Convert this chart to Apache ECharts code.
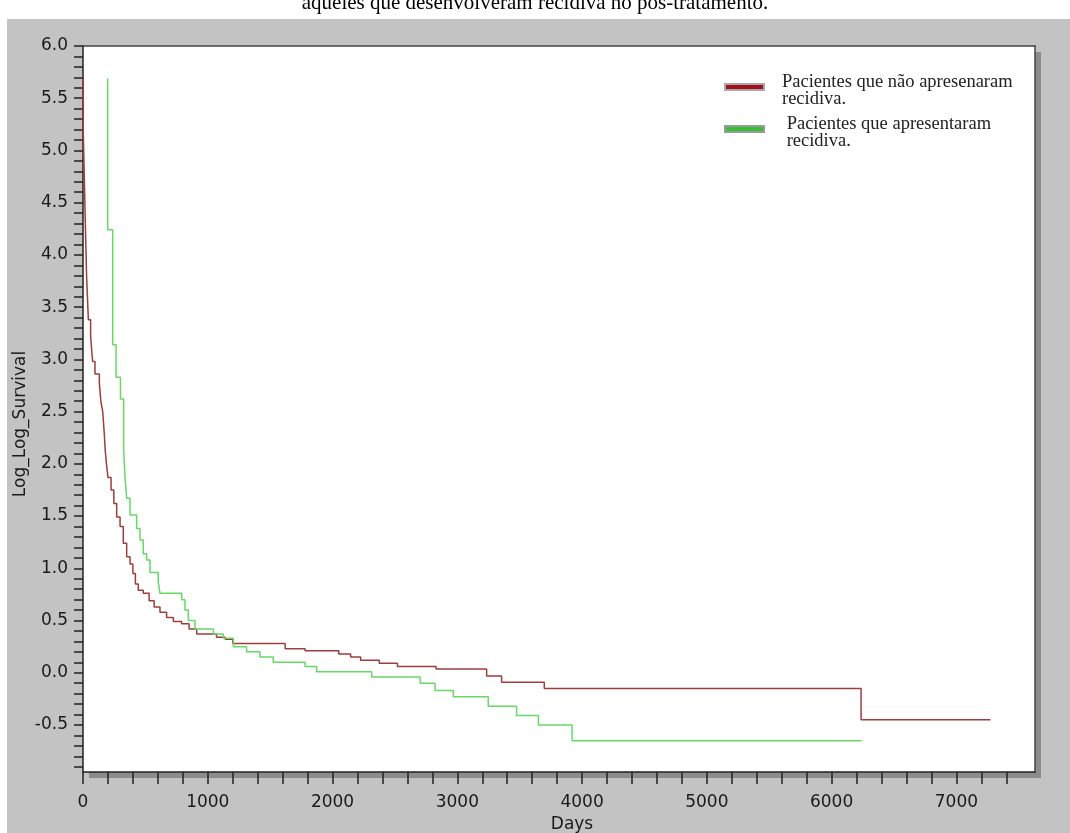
<!DOCTYPE html>
<html>
<head>
<meta charset="utf-8">
<script src="https://cdn.jsdelivr.net/npm/echarts@6/dist/echarts.min.js"></script>
<style>html,body{margin:0;padding:0;background:#fff}#c{width:1070px;height:833px}</style>
</head>
<body>
<div id="c"></div>
<script>
const captionText = 'aqueles que desenvolveram recidiva no pós-tratamento.';
const seriesNames = ['Pacientes que não apresenaram recidiva.', 'Pacientes que apresentaram recidiva.'];
const legendLines = [['Pacientes que não apresenaram', 'recidiva.'], [' Pacientes que apresentaram', ' recidiva.']];
const xAxisTitle = 'Days';
const yAxisTitle = 'Log_Log_Survival';
const xTickLabels = [0, 1000, 2000, 3000, 4000, 5000, 6000, 7000];
const yTickLabels = [-0.5, 0.0, 0.5, 1.0, 1.5, 2.0, 2.5, 3.0, 3.5, 4.0, 4.5, 5.0, 5.5, 6.0];

// Patients without recurrence: day at which each level begins, and the level
const redDays = [0, 2, 15, 29, 43, 61, 77, 96, 131, 144, 158, 170, 178, 188, 200, 225, 247, 270, 297, 323, 350, 377, 400, 420, 443, 483, 530, 570, 617, 670, 724, 790, 850, 911, 1070, 1140, 1200, 1620, 1780, 2050, 2145, 2225, 2375, 2520, 2830, 3235, 3355, 3697, 6236, 7273];
const redValues = [5.69, 5.19, 4.49, 3.79, 3.38, 3.22, 2.98, 2.86, 2.77, 2.59, 2.50, 2.30, 2.13, 2.00, 1.87, 1.75, 1.62, 1.49, 1.40, 1.24, 1.11, 1.04, 0.95, 0.85, 0.79, 0.76, 0.69, 0.63, 0.58, 0.53, 0.49, 0.47, 0.42, 0.37, 0.34, 0.32, 0.28, 0.23, 0.21, 0.18, 0.15, 0.12, 0.09, 0.06, 0.035, -0.03, -0.09, -0.15, -0.45, -0.45];

// Patients with recurrence
const greenDays = [198, 198, 238, 265, 300, 326, 337, 350, 377, 430, 457, 483, 510, 537, 603, 617, 791, 817, 844, 897, 1045, 1125, 1205, 1311, 1419, 1525, 1780, 1873, 2314, 2702, 2822, 2968, 3248, 3475, 3650, 3920, 6240];
const greenValues = [5.69, 4.24, 3.14, 2.83, 2.62, 2.13, 1.86, 1.67, 1.51, 1.38, 1.27, 1.14, 1.08, 0.96, 0.87, 0.76, 0.70, 0.60, 0.50, 0.42, 0.37, 0.33, 0.25, 0.20, 0.15, 0.10, 0.06, 0.01, -0.04, -0.10, -0.17, -0.23, -0.32, -0.41, -0.50, -0.65, -0.65];

const xMinorTicks = [];
for (let d = 0; d <= 7400; d += 200) xMinorTicks.push(d);
const yMinorTicks = [];
for (let i = -9; i <= 60; i++) yMinorTicks.push(i / 10);

const axisFont = 'DejaVu Sans';
const xMin = 0, xMax = 7630, yMin = -0.95, yMax = 6.0;
const chart = echarts.init(document.getElementById('c'));
const legendCommon = {
  orient: 'vertical', padding: 0, itemWidth: 39, itemHeight: 6, icon: 'rect',
  selectedMode: false,
  formatter: n => {
    const l = legendLines[seriesNames.indexOf(n)];
    return '{gap| }\n{t|' + l[0] + '}\n{t|' + l[1] + '}';
  },
  textStyle: {
    fontFamily: 'Liberation Serif', fontSize: 18.5, lineHeight: 17, color: '#222', padding: [0, 0, 0, 13],
    rich: {
      gap: { fontSize: 2, lineHeight: 8 },
      t: { fontFamily: 'Liberation Serif', fontSize: 18.5, lineHeight: 17, color: '#222' }
    }
  }
};
const frameAxis = {
  show: true, axisLine: { show: true, onZero: false, lineStyle: { color: '#444', width: 1.5 } },
  axisTick: { show: false }, axisLabel: { show: false }, splitLine: { show: false }
};
chart.setOption({
  animation: false,
  backgroundColor: '#c3c3c3',
  graphic: [
    { type: 'rect', shape: { x: 0, y: 0, width: 1070, height: 19 }, style: { fill: '#fff' }, silent: true },
    { type: 'rect', shape: { x: 0, y: 0, width: 7, height: 833 }, style: { fill: '#fff' }, silent: true }
  ],
  title: {
    text: captionText, left: 'center', top: -7, padding: 0,
    textStyle: { fontFamily: 'Liberation Serif', fontSize: 21, fontWeight: 'normal', color: '#000' }
  },
  legend: [
    Object.assign({}, legendCommon, {
      left: 724, top: 66,
      data: [{ name: seriesNames[0], itemStyle: { color: '#a3101c', borderColor: '#a8a8a8', borderWidth: 2 } }]
    }),
    Object.assign({}, legendCommon, {
      left: 724, top: 108,
      data: [{ name: seriesNames[1], itemStyle: { color: '#33c133', borderColor: '#9a9a9a', borderWidth: 2 } }]
    })
  ],
  grid: {
    left: 83, top: 46, right: 35, bottom: 61, show: true, containLabel: false, outerBoundsMode: 'none',
    backgroundColor: '#fff', borderWidth: 0,
    shadowColor: 'rgba(0,0,0,0.28)', shadowOffsetX: 6, shadowOffsetY: 6, shadowBlur: 0
  },
  xAxis: [{
    type: 'value', min: xMin, max: xMax,
    name: xAxisTitle, nameLocation: 'middle', nameGap: 44, nameMoveOverlap: false,
    nameTextStyle: { fontFamily: axisFont, fontSize: 17, color: '#1a1a1a', padding: [0, 0, 0, 26] },
    axisLine: { show: true, onZero: false, lineStyle: { color: '#222', width: 1.5 } },
    axisTick: { show: true, length: 12, customValues: xMinorTicks, lineStyle: { color: '#222', width: 1.5 } },
    axisLabel: { customValues: xTickLabels, margin: 22, formatter: v => String(v), fontFamily: axisFont, fontSize: 17, color: '#1a1a1a' },
    splitLine: { show: false }
  }, Object.assign({ type: 'value', position: 'top', min: xMin, max: xMax }, frameAxis)],
  yAxis: [{
    type: 'value', min: yMin, max: yMax,
    name: yAxisTitle, nameLocation: 'middle', nameGap: 54, nameMoveOverlap: false,
    nameTextStyle: { fontFamily: axisFont, fontSize: 17, color: '#1a1a1a', padding: [0, 30, 0, 0] },
    axisLine: { show: true, onZero: false, lineStyle: { color: '#222', width: 1.5 } },
    axisTick: { show: true, length: 9, customValues: yMinorTicks, lineStyle: { color: '#222', width: 1.5 } },
    axisLabel: { customValues: yTickLabels, margin: 15, formatter: v => v.toFixed(1), fontFamily: axisFont, fontSize: 17, color: '#1a1a1a' },
    splitLine: { show: false }
  }, Object.assign({ type: 'value', position: 'right', min: yMin, max: yMax }, frameAxis)],
  series: [
    {
      type: 'line', name: seriesNames[0], step: 'end', symbol: 'none',
      data: redDays.map((d, i) => [d, redValues[i]]),
      lineStyle: { color: '#9e3d3d', width: 1.5 }, itemStyle: { color: '#9e3d3d' }
    },
    {
      type: 'line', name: seriesNames[1], step: 'end', symbol: 'none',
      data: greenDays.map((d, i) => [d, greenValues[i]]),
      lineStyle: { color: '#66d966', width: 1.5 }, itemStyle: { color: '#66d966' }
    }
  ]
});
</script>
</body>
</html>
